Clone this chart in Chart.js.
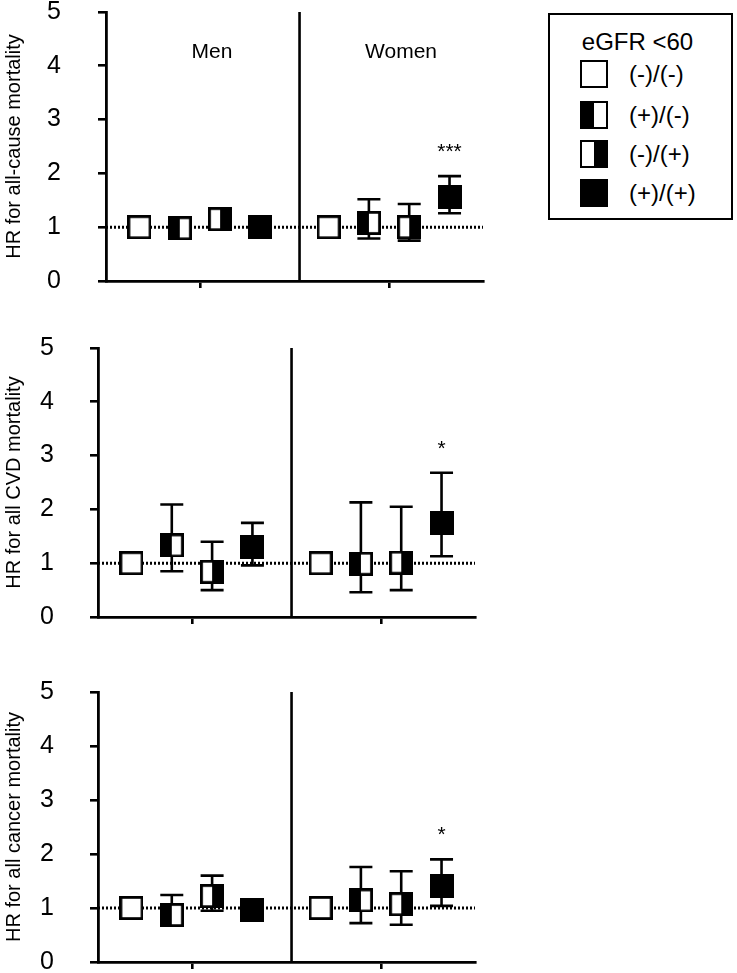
<!DOCTYPE html>
<html>
<head>
<meta charset="utf-8">
<script src="https://cdn.jsdelivr.net/npm/chart.js@4.4.1/dist/chart.umd.min.js"></script>
<style>
html, body { margin: 0; padding: 0; background: #fff; overflow: hidden; width: 737px; height: 973px; position: relative; }
canvas { position: absolute; }
#legend { position: absolute; left: 548px; top: 13px; width: 185px; height: 207px; border: 2px solid #000;
  box-sizing: border-box; font-family: "Liberation Sans", Arial, sans-serif; color: #000; }
#legend .ttl { position: absolute; left: 0; top: 13px; width: 100%; padding-right: 6px; box-sizing: border-box;
  text-align: center; font-size: 24px; line-height: 28px; }
#legend .sym { position: absolute; left: 30px; width: 28px; height: 28px; border: 2.5px solid #000; box-sizing: border-box; background: #fff; }
#legend .lab { position: absolute; left: 79px; font-size: 24px; line-height: 28px; }
</style>
</head>
<body>
<canvas id="c1" width="490" height="370" style="left:0;top:-40px"></canvas>
<canvas id="c2" width="482" height="370" style="left:0;top:296px"></canvas>
<canvas id="c3" width="482" height="370" style="left:0;top:640px"></canvas>
<div id="legend"><div class="ttl">eGFR &lt;60</div></div>
<script>
// eGFR <60 categories (legend order) and sex groups
const categories = ['(-)/(-)', '(+)/(-)', '(-)/(+)', '(+)/(+)'];
const groups = ['Men', 'Women'];
const yTicks = [0, 1, 2, 3, 4, 5];

// all-cause mortality: hazard ratio, lower / upper 95% CI
const allCauseMenHR = [1.00, 0.98, 1.15, 1.00];
const allCauseMenLo = [1.00, 0.85, 1.00, 0.90];
const allCauseMenHi = [1.00, 1.13, 1.30, 1.10];
const allCauseWomenHR = [1.00, 1.08, 1.00, 1.57];
const allCauseWomenLo = [1.00, 0.79, 0.75, 1.26];
const allCauseWomenHi = [1.00, 1.52, 1.43, 1.95];
const allCauseWomenStars = ['', '', '', '***'];

// CVD mortality
const cvdMenHR = [1.00, 1.33, 0.84, 1.30];
const cvdMenLo = [1.00, 0.85, 0.50, 0.96];
const cvdMenHi = [1.00, 2.09, 1.40, 1.75];
const cvdWomenHR = [1.00, 0.99, 1.01, 1.74];
const cvdWomenLo = [1.00, 0.46, 0.50, 1.13];
const cvdWomenHi = [1.00, 2.13, 2.05, 2.68];
const cvdWomenStars = ['', '', '', '*'];

// cancer mortality
const cancerMenHR = [1.00, 0.87, 1.22, 0.96];
const cancerMenLo = [1.00, 0.72, 0.95, 0.82];
const cancerMenHi = [1.00, 1.24, 1.60, 1.12];
const cancerWomenHR = [1.00, 1.14, 1.07, 1.40];
const cancerWomenLo = [1.00, 0.72, 0.69, 1.04];
const cancerWomenHi = [1.00, 1.76, 1.68, 1.90];
const cancerWomenStars = ['', '', '', '*'];

// layout of the x axis (one unit = one marker slot)
const groupCenters = [2.33, 7.02];
const dividerX = 4.8;
const xMax = 9.35;
const FONT = '"Liberation Sans", Arial, sans-serif';
const symbolKinds = ['open', 'left', 'right', 'full'];

function makeSymbol(kind, size) {
  const c = document.createElement('canvas');
  c.width = c.height = size;
  const g = c.getContext('2d');
  g.fillStyle = '#fff';
  g.fillRect(0, 0, size, size);
  g.fillStyle = '#000';
  if (kind === 'left') g.fillRect(0, 0, size / 2, size);
  if (kind === 'right') g.fillRect(size / 2, 0, size / 2, size);
  if (kind === 'full') g.fillRect(0, 0, size, size);
  g.lineWidth = 2.8;
  g.strokeStyle = '#000';
  g.strokeRect(1.4, 1.4, size - 2.8, size - 2.8);
  return c;
}

// legend
const legend = document.getElementById('legend');
const rowTops = [45, 86, 125, 164];
categories.forEach((c, i) => {
  const s = document.createElement('div');
  s.className = 'sym';
  s.style.top = rowTops[i] + 'px';
  if (symbolKinds[i] === 'left') s.style.background = 'linear-gradient(to right,#000 50%,#fff 50%)';
  if (symbolKinds[i] === 'right') s.style.background = 'linear-gradient(to right,#fff 50%,#000 50%)';
  if (symbolKinds[i] === 'full') s.style.background = '#000';
  legend.appendChild(s);
  const t = document.createElement('div');
  t.className = 'lab';
  t.style.top = rowTops[i] + 'px';
  t.textContent = c;
  legend.appendChild(t);
});

const errorBars = {
  id: 'errorBars',
  beforeDatasetsDraw(chart) {
    const { ctx, scales: { x, y } } = chart;
    ctx.save();
    ctx.strokeStyle = '#000';
    ctx.lineWidth = 2.6;
    chart.data.datasets.forEach(ds => {
      if (!ds.isMarker) return;
      ds.data.forEach(p => {
        if (p.lo === p.hi) return;
        const px = x.getPixelForValue(p.x);
        const yl = y.getPixelForValue(p.lo), yh = y.getPixelForValue(p.hi);
        ctx.beginPath();
        ctx.moveTo(px, yl); ctx.lineTo(px, yh);
        ctx.moveTo(px - 11.5, yl); ctx.lineTo(px + 11.5, yl);
        ctx.moveTo(px - 11.5, yh); ctx.lineTo(px + 11.5, yh);
        ctx.stroke();
      });
    });
    ctx.restore();
  }
};

const annotations = {
  id: 'annotations',
  afterDatasetsDraw(chart, args, opts) {
    const { ctx, scales: { x, y }, chartArea } = chart;
    ctx.save();
    ctx.fillStyle = '#000';
    ctx.textAlign = 'center';
    ctx.textBaseline = 'middle';
    ctx.font = '21px ' + FONT;
    chart.data.datasets.forEach(ds => {
      if (!ds.isMarker) return;
      ds.data.forEach(p => {
        if (!p.star) return;
        ctx.fillText(p.star, x.getPixelForValue(p.x), y.getPixelForValue(p.hi) - 24);
      });
    });
    if (opts.groupLabels) {
      groups.forEach((g, i) => {
        ctx.fillText(g, x.getPixelForValue(groupCenters[i]) + 12, chartArea.top + 40);
      });
    }
    ctx.restore();
  }
};

// size and move the canvas so that the plot area lands on the wanted page box
function placePanel(chart, area) {
  for (let k = 0; k < 3; k++) {
    const ca = chart.chartArea;
    const w = Math.round(chart.width + (area.right - area.left) - (ca.right - ca.left));
    const h = Math.round(chart.height + (area.bottom - area.top) - (ca.bottom - ca.top));
    if (w === chart.width && h === chart.height) break;
    chart.resize(w, h);
    chart.update();
  }
  const ca = chart.chartArea;
  chart.canvas.style.left = Math.round(area.left - ca.left) + 'px';
  chart.canvas.style.top = Math.round(area.top - ca.top) + 'px';
}

function makePanel(id, title, men, women, stars, yAxisWidth, tickPad, groupLabels, area) {
  const datasets = categories.map((c, i) => ({
    label: c,
    isMarker: true,
    showLine: false,
    pointStyle: makeSymbol(symbolKinds[i], 24),
    pointRadius: 12,
    order: 0,
    data: [
      { x: groupCenters[0] - 1.5 + i, y: men.hr[i], lo: men.lo[i], hi: men.hi[i], star: '' },
      { x: groupCenters[1] - 1.5 + i, y: women.hr[i], lo: women.lo[i], hi: women.hi[i], star: stars[i] }
    ]
  }));
  // reference line HR = 1
  datasets.push({
    label: 'ref', type: 'line', order: 5, pointRadius: 0, borderColor: '#000', borderWidth: 3,
    borderDash: [2, 2], data: [{ x: 0, y: 1 }, { x: xMax, y: 1 }]
  });
  // men / women divider
  datasets.push({
    label: 'div', type: 'line', order: 5, pointRadius: 0, borderColor: '#000', borderWidth: 2.6,
    data: [{ x: dividerX, y: 0 }, { x: dividerX, y: 5 }]
  });

  const chart = new Chart(document.getElementById(id), {
    type: 'scatter',
    data: { datasets },
    options: {
      responsive: false,
      maintainAspectRatio: false,
      animation: false,
      events: [],
      layout: { padding: 0 },
      plugins: { legend: { display: false }, tooltip: { enabled: false }, annotations: { groupLabels } },
      scales: {
        x: {
          type: 'linear', min: 0, max: xMax,
          afterBuildTicks: s => { s.ticks = groupCenters.map(v => ({ value: v })); },
          afterFit: s => { s.height = 20; },
          ticks: { display: false },
          grid: { drawOnChartArea: false, drawTicks: true, tickLength: 7, color: '#000', lineWidth: 2.6 },
          border: { display: true, color: '#000', width: 2.8 }
        },
        y: {
          type: 'linear', min: 0, max: 5,
          afterBuildTicks: s => { s.ticks = yTicks.map(v => ({ value: v })); },
          afterFit: s => { s.width = yAxisWidth; },
          ticks: { color: '#000', font: { family: FONT, size: 25 }, padding: tickPad },
          grid: { drawOnChartArea: false, drawTicks: true, tickLength: 8, color: '#000', lineWidth: 2.6 },
          border: { display: true, color: '#000', width: 2.8 },
          title: { display: true, text: title, color: '#000', font: { family: FONT, size: 20 }, padding: { top: 2, bottom: 0 } }
        }
      }
    },
    plugins: [errorBars, annotations]
  });
  placePanel(chart, area);
}

makePanel('c1', 'HR for all-cause mortality',
  { hr: allCauseMenHR, lo: allCauseMenLo, hi: allCauseMenHi },
  { hr: allCauseWomenHR, lo: allCauseWomenLo, hi: allCauseWomenHi },
  allCauseWomenStars, 106, 37, true, { left: 106, top: 12, right: 483, bottom: 281 });
makePanel('c2', 'HR for all CVD mortality',
  { hr: cvdMenHR, lo: cvdMenLo, hi: cvdMenHi },
  { hr: cvdWomenHR, lo: cvdWomenLo, hi: cvdWomenHi },
  cvdWomenStars, 98, 36, false, { left: 98, top: 348, right: 475, bottom: 617 });
makePanel('c3', 'HR for all cancer mortality',
  { hr: cancerMenHR, lo: cancerMenLo, hi: cancerMenHi },
  { hr: cancerWomenHR, lo: cancerWomenLo, hi: cancerWomenHi },
  cancerWomenStars, 98, 36, false, { left: 98, top: 692, right: 475, bottom: 962 });
</script>
</body>
</html>
